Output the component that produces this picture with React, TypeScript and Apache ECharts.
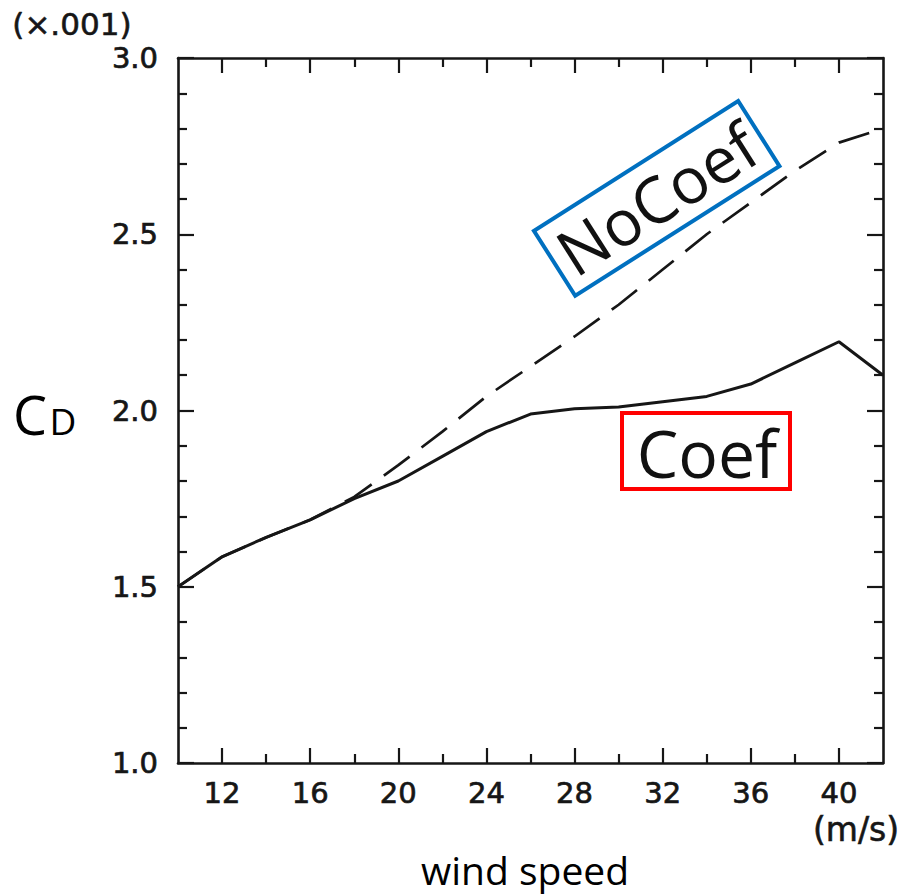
import React, { useEffect, useRef } from "react";
import * as echarts from "echarts";

// Wind speed (m/s) at which the drag coefficient is sampled
const windSpeed = [10, 12, 14, 16, 18, 20, 22, 24, 26, 28, 30, 32, 34, 36, 38, 40, 42];
// Drag coefficient C_D (x 0.001), with and without the coefficient
const coef = [1.5, 1.585, 1.64, 1.69, 1.75, 1.8, 1.87, 1.94, 1.99, 2.005, 2.01, 2.025, 2.04, 2.075, 2.135, 2.195, 2.1];
const noCoef = [1.5, 1.585, 1.64, 1.69, 1.755, 1.845, 1.94, 2.04, 2.125, 2.21, 2.3, 2.4, 2.5, 2.59, 2.68, 2.76, 2.8];

// Axis ticks
const xMajorTicks = [12, 16, 20, 24, 28, 32, 36, 40];
const xMinorTicks = [14, 18, 22, 26, 30, 34, 38];
const yMin = 1.0;
const yMax = 3.0;
const yStep = 0.5;

const INK = "#161616";
const TICK_FONT = "DejaVu Sans";
const NOTE_FONT = "Open Sans";

export default function App() {
  const ref = useRef<HTMLDivElement>(null);

  useEffect(() => {
    if (!ref.current) return;
    const chart = echarts.init(ref.current, undefined, { renderer: "svg" });

    const axisLine = { show: true, lineStyle: { color: INK, width: 2.6 } };
    const tickStyle = { color: INK, width: 2.2 };
    // slightly heavier glyphs for the printed-looking tick labels
    const tickText = {
      color: INK,
      fontFamily: TICK_FONT,
      fontSize: 29,
      textBorderColor: INK,
      textBorderWidth: 0.7,
    };

    const xAxisBase = {
      type: "value" as const,
      min: 10,
      max: 42,
      splitLine: { show: false },
    };

    const xAxes = [
      {
        ...xAxisBase,
        position: "bottom",
        axisLine,
        axisTick: { show: true, inside: true, length: 15, lineStyle: tickStyle, customValues: xMajorTicks },
        axisLabel: { show: true, customValues: xMajorTicks, margin: 15, ...tickText },
      },
      {
        ...xAxisBase,
        position: "bottom",
        axisLine: { show: false },
        axisTick: { show: true, inside: true, length: 9, lineStyle: tickStyle, customValues: xMinorTicks },
        axisLabel: { show: false },
      },
      {
        ...xAxisBase,
        position: "top",
        axisLine,
        axisTick: { show: true, inside: true, length: 15, lineStyle: tickStyle, customValues: xMajorTicks },
        axisLabel: { show: false },
      },
      {
        ...xAxisBase,
        position: "top",
        axisLine: { show: false },
        axisTick: { show: true, inside: true, length: 9, lineStyle: tickStyle, customValues: xMinorTicks },
        axisLabel: { show: false },
      },
    ];

    const yAxisBase = {
      type: "value" as const,
      min: yMin,
      max: yMax,
      interval: yStep,
      splitLine: { show: false },
      axisLine,
      axisTick: { show: true, inside: true, length: 16, lineStyle: tickStyle },
      minorTick: { show: true, splitNumber: 5, length: 9, lineStyle: tickStyle },
    };

    chart.setOption({
      animation: false,
      backgroundColor: "#ffffff",
      grid: { left: 178, top: 58, right: 27, bottom: 131 },
      xAxis: xAxes,
      yAxis: [
        {
          ...yAxisBase,
          position: "left",
          axisLabel: {
            show: true,
            margin: 20,
            ...tickText,
            formatter: (v: number) => v.toFixed(1),
          },
        },
        { ...yAxisBase, position: "right", axisLabel: { show: false } },
      ],
      series: [
        {
          name: "Coef",
          type: "line",
          symbol: "none",
          data: windSpeed.map((w, i) => [w, coef[i]]),
          lineStyle: { color: INK, width: 3 },
          z: 3,
        },
        {
          name: "NoCoef",
          type: "line",
          symbol: "none",
          data: windSpeed.map((w, i) => [w, noCoef[i]]),
          lineStyle: { color: INK, width: 2.7, type: [32, 15] },
          z: 2,
        },
      ],
      graphic: [
        {
          type: "text",
          left: 12,
          top: 8,
          style: {
            text: "(×.001)",
            fill: INK,
            font: `31px '${TICK_FONT}'`,
            stroke: INK,
            lineWidth: 0.6,
          },
        },
        {
          type: "text",
          x: 856,
          y: 829,
          style: {
            text: "(m/s)",
            fill: INK,
            font: `33px '${TICK_FONT}'`,
            stroke: INK,
            lineWidth: 0.6,
            align: "center",
            verticalAlign: "middle",
          },
        },
        {
          type: "text",
          x: 30,
          y: 414,
          style: { text: "C", fill: "#000", font: `54px '${NOTE_FONT}'`, align: "center", verticalAlign: "middle" },
        },
        {
          type: "text",
          x: 63,
          y: 420,
          style: { text: "D", fill: "#000", font: `37px '${NOTE_FONT}'`, align: "center", verticalAlign: "middle" },
        },
        {
          type: "text",
          x: 525,
          y: 869,
          style: {
            text: "wind speed",
            fill: "#000",
            font: `39px '${NOTE_FONT}'`,
            align: "center",
            verticalAlign: "middle",
          },
        },
        {
          type: "group",
          x: 656.7,
          y: 198.4,
          rotation: (32.4 * Math.PI) / 180,
          children: [
            {
              type: "rect",
              shape: { x: -121, y: -38.5, width: 242, height: 77 },
              style: { fill: "rgba(0,0,0,0)", stroke: "#0070C0", lineWidth: 4 },
            },
            {
              type: "text",
              x: 0,
              y: 0,
              style: {
                text: "NoCoef",
                fill: "#111",
                font: `64px '${NOTE_FONT}'`,
                align: "center",
                verticalAlign: "middle",
              },
            },
          ],
        },
        {
          type: "rect",
          shape: { x: 622, y: 413, width: 168, height: 76 },
          style: { fill: "rgba(0,0,0,0)", stroke: "#FF0000", lineWidth: 4 },
        },
        {
          type: "text",
          x: 707,
          y: 452,
          style: {
            text: "Coef",
            fill: "#111",
            font: `66px '${NOTE_FONT}'`,
            align: "center",
            verticalAlign: "middle",
          },
        },
      ],
    });

    return () => chart.dispose();
  }, []);

  return (
    <div
      ref={ref}
      style={{ position: "fixed", left: 0, top: 0, width: 910, height: 894, background: "#fff" }}
    />
  );
}
